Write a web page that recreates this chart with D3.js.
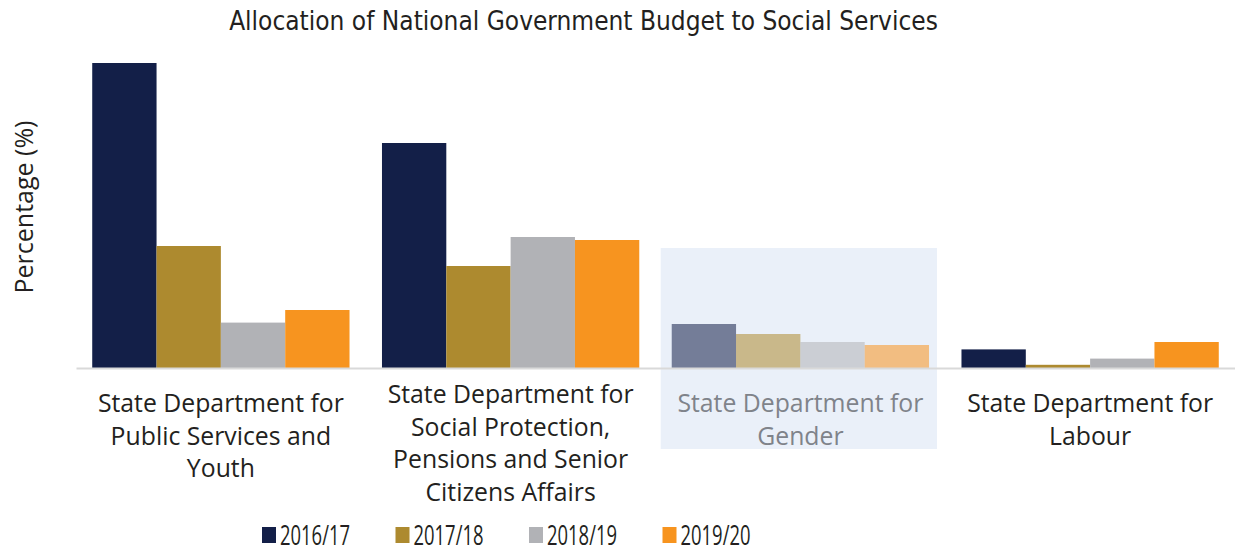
<!DOCTYPE html>
<html>
<head>
<meta charset="utf-8">
<script src="https://cdn.jsdelivr.net/npm/d3@7"></script>
<style>
  html, body { margin: 0; padding: 0; background: #fff; }
  svg { display: block; }
  text { fill: #231f20; }
</style>
</head>
<body>
<svg id="chart" width="1235" height="552"></svg>
<script>
// Departments (label lines) and budget share per financial year
const categories = [
  ["State Department for", "Public Services and", "Youth"],
  ["State Department for", "Social Protection,", "Pensions and Senior", "Citizens Affairs"],
  ["State Department for", "Gender"],
  ["State Department for", "Labour"]
];
const years = ["2016/17", "2017/18", "2018/19", "2019/20"];
const v2016 = [15.25, 11.25, 2.2, 0.93];
const v2017 = [6.1, 5.1, 1.7, 0.16];
const v2018 = [2.27, 6.55, 1.3, 0.47];
const v2019 = [2.9, 6.4, 1.15, 1.3];
const colors = ["#131f48", "#ad8a2f", "#b1b2b6", "#f7941f"];
const highlighted = 2; // the Gender group is shaded

const series = [v2016, v2017, v2018, v2019];
const svg = d3.select("#chart");

const bodyFont = "'Open Sans', Lato, sans-serif";
const narrowFont = "'Liberation Sans Narrow', 'DejaVu Sans Condensed', 'Open Sans', sans-serif";

// width of a string at 100px in the given font
function measure(font, sample) {
  const probe = svg.append("text").style("font-family", font).style("font-size", "100px").text(sample);
  const w = probe.node().getComputedTextLength();
  probe.remove();
  return w;
}
// font size at which a string spans the given width
function fitSize(font, sample, width) {
  return 100 * width / measure(font, sample);
}

const x0 = d3.scaleBand()
  .domain(d3.range(categories.length))
  .range([76, 1235])
  .paddingInner(0.112)
  .paddingOuter(0.056);
const x1 = d3.scaleBand()
  .domain(d3.range(years.length))
  .range([0, x0.bandwidth()]);
const y = d3.scaleLinear().domain([0, 16]).range([368, 48]);

// Title
const titleText = "Allocation of National Government Budget to Social Services";
svg.append("text")
  .attr("x", 583.5).attr("y", 30)
  .attr("text-anchor", "middle")
  .style("font-family", narrowFont)
  .style("font-size", fitSize(narrowFont, titleText, 709) + "px")
  .text(titleText);

// Y axis title
const yTitle = "Percentage (%)";
svg.append("text")
  .attr("transform", "translate(33,207) rotate(-90)")
  .attr("text-anchor", "middle")
  .style("font-family", bodyFont)
  .style("font-size", fitSize(bodyFont, yTitle, 173) + "px")
  .text(yTitle);

// Highlight panel behind the Gender group
svg.append("rect")
  .attr("x", x0(highlighted) - 11)
  .attr("y", 248)
  .attr("width", x0.bandwidth() + 19)
  .attr("height", 201)
  .attr("fill", "#eaf0f9");

// Bars
const groups = svg.selectAll("g.grp")
  .data(categories)
  .join("g")
  .attr("class", "grp")
  .attr("transform", (d, i) => `translate(${x0(i)},0)`);

groups.each(function(d, ci) {
  d3.select(this).selectAll("rect")
    .data(years.map((yr, si) => ({ si, v: series[si][ci] })))
    .join("rect")
    .attr("x", b => x1(b.si))
    .attr("width", x1.bandwidth())
    .attr("y", b => y(b.v))
    .attr("height", b => y(0) - y(b.v))
    .attr("fill", b => colors[b.si])
    .attr("opacity", ci === highlighted ? 0.55 : 1);
});

// Baseline
const xAxis = d3.axisBottom(x0).tickSize(0).tickFormat("");
svg.append("g")
  .attr("transform", `translate(0,${y(0)})`)
  .call(xAxis)
  .call(g => g.select(".domain").attr("stroke", "#d9d9d9").attr("stroke-width", 2));

// Category labels
const labelSize = fitSize(bodyFont, "State Department for", 246);
groups.each(function(lines, ci) {
  const startY = 412 - Math.max(0, lines.length - 3) * 9;
  const t = d3.select(this).append("text")
    .attr("text-anchor", "middle")
    .style("font-family", bodyFont)
    .style("font-size", labelSize + "px")
    .style("fill", ci === highlighted ? "#7f838a" : "#231f20");
  lines.forEach((ln, li) => {
    t.append("tspan")
      .attr("x", x0.bandwidth() / 2)
      .attr("y", startY + li * 32.5)
      .text(ln);
  });
});

// Legend: tall, horizontally compressed labels
const legendPx = 28;
const legendSquash = 70 / (measure(bodyFont, "2016/17") * legendPx / 100);
const legend = svg.append("g")
  .selectAll("g")
  .data(years)
  .join("g")
  .attr("transform", (d, i) => `translate(${262 + i * 133.5},527)`);
legend.append("rect")
  .attr("width", 14).attr("height", 16)
  .attr("fill", (d, i) => colors[i]);
legend.append("text")
  .attr("transform", `translate(18,18) scale(${legendSquash},1)`)
  .style("font-family", bodyFont)
  .style("font-size", legendPx + "px")
  .text(d => d);
</script>
</body>
</html>
